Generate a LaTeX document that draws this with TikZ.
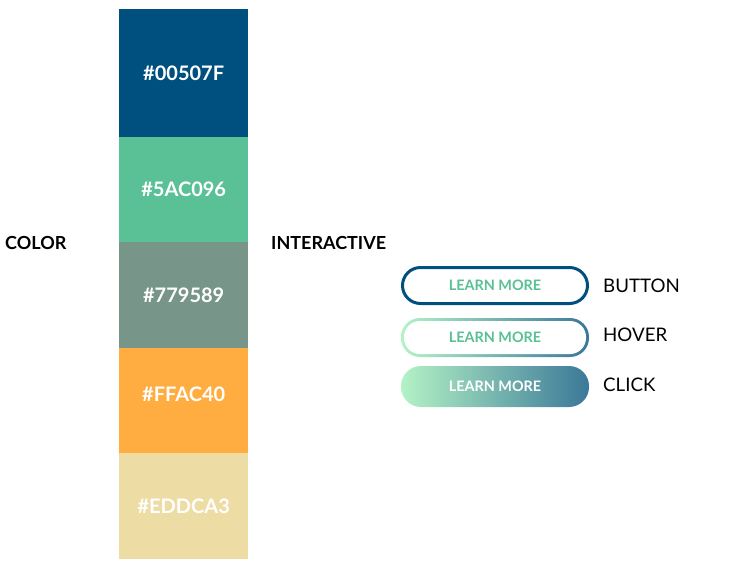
\documentclass[tikz,border=0pt]{standalone}
\usepackage{fontspec}
\setmainfont{Lato}
\definecolor{navy}{HTML}{00507F}
\definecolor{mint}{HTML}{5AC096}
\definecolor{sage}{HTML}{779589}
\definecolor{amber}{HTML}{FFAC40}
\definecolor{sand}{HTML}{EDDCA3}
\definecolor{palemint}{HTML}{B4F2C6}
\definecolor{steel}{HTML}{3A7898}
\begin{document}
\begin{tikzpicture}[
        x                  = 1pt,
        y                  = -1pt,
        swatch/.style      = {anchor=north west, minimum width=129pt, inner sep=0pt,
                              text=white, font=\fontsize{20}{20}\selectfont\bfseries},
        heading/.style     = {anchor=west, inner sep=0pt, font=\fontsize{18}{18}\selectfont\bfseries},
        pill/.style        = {rounded corners=19pt, minimum width=188pt, minimum height=39pt,
                              inner sep=0pt, font=\fontsize{14.4}{14.4}\selectfont\bfseries},
        caption/.style     = {anchor=west, inner sep=0pt, font=\fontsize{18.7}{18.7}\selectfont},
      ]
        \useasboundingbox (0,0) rectangle (729,574);
        % colour column
        \node[swatch, fill=navy,  minimum height=128pt] (navy)  at (119,9)   {\#00507F};
        \node[swatch, fill=mint,  minimum height=105pt] (mint)  at (119,137) {\#5AC096};
        \node[swatch, fill=sage,  minimum height=106pt] (sage)  at (119,242) {\#779589};
        \node[swatch, fill=amber, minimum height=105pt, text height=13pt, text depth=12pt] (amber) at (119,348) {\#FFAC40};
        \node[swatch, fill=sand,  minimum height=106pt] (sand)  at (119,453) {\#EDDCA3};
        % headings
        \node[heading] (color) at (5,243)   {COLOR};
        \node[heading] (inter) at (271,243) {INTERACTIVE};
        % buttons
        \node[pill, draw=navy, line width=3pt, minimum width=185pt, minimum height=36pt,
              rounded corners=18pt, text=mint] (button) at (495,285.5) {LEARN MORE};
        \node[pill, left color=palemint, right color=steel] (hover) at (495,337.5) {};
        \node[pill, fill=white, minimum width=182pt, minimum height=33pt, rounded corners=16pt,
              text=mint] (hoverin) at (hover) {LEARN MORE};
        \node[pill, minimum height=41pt, rounded corners=20pt, shading angle=60,
              left color=palemint, right color=steel, text=white] (click) at (495,386.5) {LEARN MORE};
        % states
        \node[caption] (lbutton) at (603,286) {BUTTON};
        \node[caption] (lhover)  at (603,335) {HOVER};
        \node[caption] (lclick)  at (603,385) {CLICK};
    \end{tikzpicture}
\end{document}
